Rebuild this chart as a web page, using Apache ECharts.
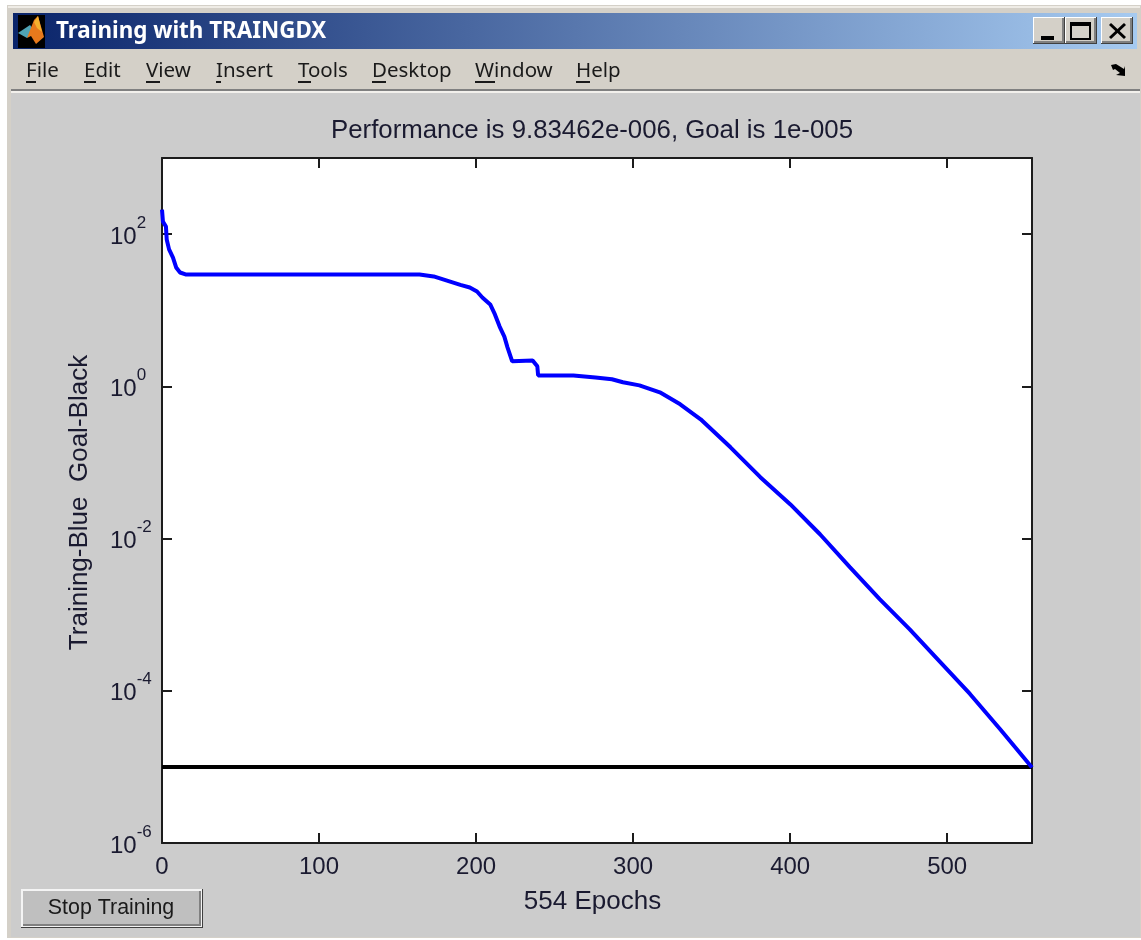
<!DOCTYPE html>
<html><head><meta charset="utf-8">
<style>html,body{margin:0;padding:0;background:#fff}#c{width:1141px;height:940px}</style>
<script src="https://cdn.jsdelivr.net/npm/echarts@6/dist/echarts.min.js"></script>
</head><body><div id="c"></div>
<script>
const epochs = [0,0.6,2.5,3,4.5,7,9,11.5,15,164,173,179,185,190,196,200.6,204,209,212,215,218,220,223,236,239,239.5,262,276,286.5,293.5,304,317,330,343,362,381,400,419,438,457,476,495,514.5,533.6,554];
const performance = [210,146,126,85,63,49,36.5,31.3,29.5,29.5,27.8,25.4,23.2,21.5,19.9,17.6,14.7,11.9,8.8,6.1,4.5,3.25,2.13,2.19,1.83,1.39,1.39,1.31,1.24,1.13,1.03,0.834,0.581,0.369,0.158,0.064,0.0283,0.0114,0.00421,0.0016,6.47e-4,2.46e-4,9.08e-5,3.15e-5,9.83462e-6];
const goal = 1e-5;
const lastEpoch = 554;
const titleText = 'Performance is 9.83462e-006, Goal is 1e-005';
const xName = '554 Epochs';
const yName = 'Training-Blue  Goal-Black';
const windowTitle = 'Training with TRAINGDX';
const menuNames = ['File','Edit','View','Insert','Tools','Desktop','Window','Help'];
const menuLefts = [26,84,146,216,298,372,475,576];
const underlineWidths = [10,12,14,5,13,14,20,14];
const buttonText = 'Stop Training';

const sans = '"Liberation Sans", Arial, sans-serif';
const ui = '"Noto Sans", Tahoma, sans-serif';
const Z = -5;
const rect = (x,y,w,h,fill,z) => ({type:'rect',z:z===undefined?Z:z,silent:true,shape:{x,y,width:w,height:h},style:{fill}});
const txt = (x,y,text,font,fill,align) => ({type:'text',z:Z+3,silent:true,x,y,style:{text,font,fill,align:align||'left',verticalAlign:'middle'}});
const poly = (points,fill,z) => ({type:'polygon',z:z===undefined?Z+3:z,silent:true,shape:{points},style:{fill}});
const winBtn = (x,w) => [rect(x,17,w,27,'#404040',Z+1),rect(x,17,w-1,26,'#ffffff',Z+1),rect(x+1,18,w-2,25,'#d4d0c8',Z+2),rect(x+1,41,w-2,2,'#808080',Z+2),rect(x+w-3,18,2,25,'#808080',Z+2)];

const chrome = [
  rect(7,5,1134,933,'#d4d0c8'),
  rect(8,6,1132,2,'#efece6',Z+1),
  {type:'rect',z:Z+1,silent:true,shape:{x:13,y:13,width:1124,height:36},
   style:{fill:new echarts.graphic.LinearGradient(0,0,1,0,[{offset:0,color:'#0a246a'},{offset:1,color:'#a6caf0'}])}},
  rect(11,89,1129,2,'#808080',Z+1),
  rect(11,91,1129,2,'#f2f0ec',Z+1),
  rect(11,93,1129,844,'#cccccc',Z+1),
  rect(18,15,27,33,'#000000',Z+2),
  poly([[18,33],[30,25],[34,30],[27,38]],'#4fa3b5'),
  poly([[27,38],[34,20],[38,16],[44,37],[36,44],[31,36]],'#e8791c'),
  poly([[34,22],[38,16],[42,32],[37,28]],'#f5b02e'),
  txt(56,32,windowTitle,'bold 22.4px '+ui,'#ffffff'),
  ...winBtn(1033,32),...winBtn(1065,32),...winBtn(1101,32),
  rect(1041,36,13,4,'#000000',Z+3),
  {type:'rect',z:Z+3,silent:true,shape:{x:1071,y:23,width:19,height:16},style:{fill:'none',stroke:'#000',lineWidth:2}},
  rect(1071,22,19,4,'#000000',Z+3),
  {type:'polyline',z:Z+3,silent:true,shape:{points:[[1110,24],[1125,38]]},style:{stroke:'#000',lineWidth:3}},
  {type:'polyline',z:Z+3,silent:true,shape:{points:[[1125,24],[1110,38]]},style:{stroke:'#000',lineWidth:3}},
  poly([[1111,65],[1116,64],[1124,69],[1125,66],[1125,76],[1116,75],[1120,73],[1115,69],[1113,70]],'#000000'),
  ...menuNames.map((n,i)=>txt(menuLefts[i],71,n,'20.5px '+ui,'#1a1a1a')),
  ...menuNames.map((n,i)=>rect(menuLefts[i],81,underlineWidths[i],2,'#1a1a1a',Z+3)),
  rect(21,889,182,39,'#3f3f3f',Z+2),
  rect(21,889,181,38,'#f4f4f4',Z+2),
  rect(23,891,178,35,'#bfbfbf',Z+3),
  rect(199,891,2,35,'#808080',Z+3),
  rect(23,924,178,2,'#808080',Z+3),
  {type:'text',z:Z+4,silent:true,x:111,y:908,style:{text:buttonText,font:'21.4px '+sans,fill:'#1a1a1a',align:'center',verticalAlign:'middle'}}
];

const axisColor = '#1c1c1c';
const axisLine = {show:true,onZero:false,lineStyle:{color:axisColor,width:2}};
const axisTick = {show:true,inside:true,length:10,lineStyle:{color:axisColor,width:2}};
const chart = echarts.init(document.getElementById('c'),null,{renderer:'canvas'});
chart.setOption({
  animation:false,
  backgroundColor:'#ffffff',
  graphic:{elements:chrome},
  title:{text:titleText,left:587,top:113,textAlign:'center',textStyle:{fontFamily:sans,fontSize:25.8,fontWeight:'normal',color:'#1a1a30'}},
  grid:{left:162,top:158,width:870,height:685,show:true,backgroundColor:'#ffffff',borderWidth:0},
  xAxis:[
   {type:'value',min:0,max:lastEpoch,interval:100,position:'bottom',name:xName,nameLocation:'middle',nameGap:46,
    nameTextStyle:{fontFamily:sans,fontSize:26,color:'#1a1a30',padding:[0,9,0,0]},
    axisLine,axisTick,splitLine:{show:false},
    axisLabel:{fontFamily:sans,fontSize:24,color:'#1a1a30',margin:12,showMaxLabel:false,hideOverlap:false,
      formatter:v=>v%100===0?String(v):''}},
   {type:'value',min:0,max:lastEpoch,interval:100,position:'top',axisLine,axisTick,splitLine:{show:false},axisLabel:{show:false}}
  ],
  yAxis:[
   {type:'log',logBase:10,min:1e-6,max:1e3,interval:2,position:'left',name:yName,nameLocation:'middle',nameGap:69,
    nameTextStyle:{fontFamily:sans,fontSize:26,color:'#1a1a30',padding:[0,4,0,0]},
    axisLine,axisTick,splitLine:{show:false},minorTick:{show:false},
    axisLabel:{margin:52,align:'left',formatter:v=>{const e=Math.round(Math.log10(v));return e>=3?'':'{b|10}{s|'+e+'}';},
      rich:{b:{fontFamily:sans,fontSize:24,color:'#1a1a30',lineHeight:30,padding:[6,0,0,0]},
            s:{fontFamily:sans,fontSize:17,color:'#1a1a30',lineHeight:30,padding:[6,0,28,0]}}}},
   {type:'log',logBase:10,min:1e-6,max:1e3,interval:2,position:'right',axisLine,axisTick,splitLine:{show:false},axisLabel:{show:false}}
  ],
  series:[
   {name:'Goal',type:'line',showSymbol:false,symbol:'none',data:[[0,goal],[lastEpoch,goal]],lineStyle:{color:'#000000',width:4},z:3},
   {name:'Training',type:'line',showSymbol:false,symbol:'none',data:epochs.map((e,i)=>[e,performance[i]]),lineStyle:{color:'#0000ff',width:4},z:4,clip:true}
  ]
});
</script></body></html>
